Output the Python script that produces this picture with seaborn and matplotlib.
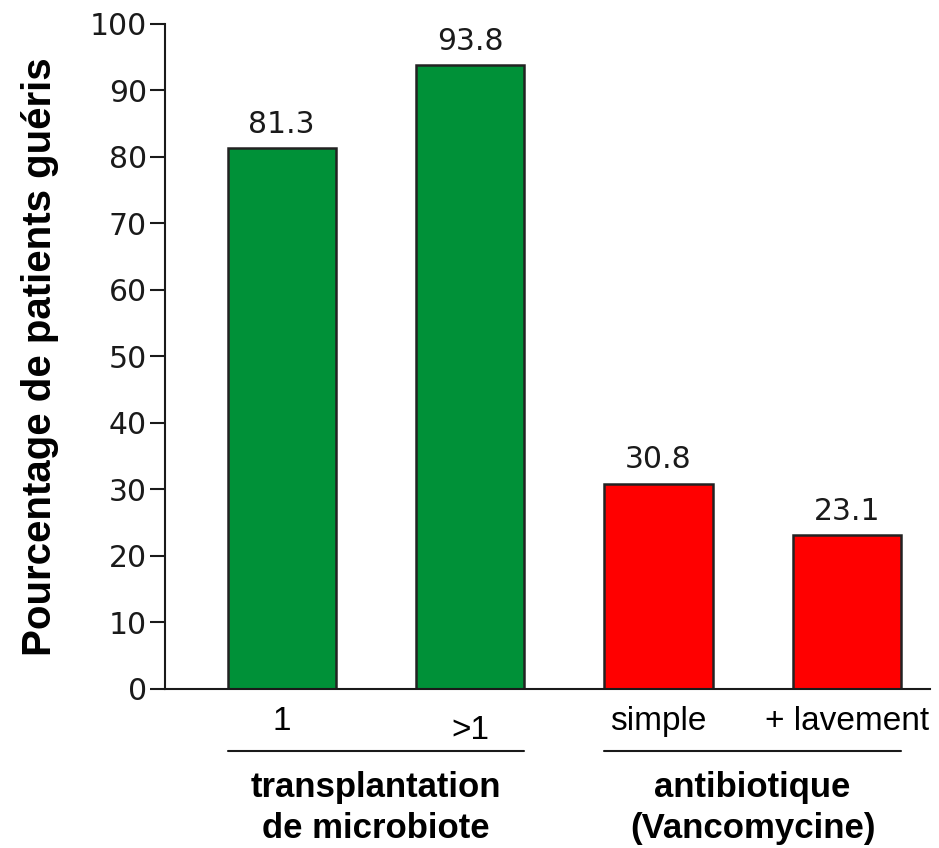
import matplotlib
matplotlib.use('Agg')
import matplotlib.pyplot as plt
import matplotlib.transforms as mtransforms
import seaborn as sns

# Data
treatments = ['1', '>1', 'simple', '+ lavement']
cure_pct = [81.3, 93.8, 30.8, 23.1]
bar_colors = ['#009138', '#009138', '#ff0000', '#ff0000']
groups = ['transplantation\nde microbiote', 'antibiotique\n(Vancomycine)']
group_members = [[0, 1], [2, 3]]

sns.set_style('ticks')
plt.rcParams['font.family'] = ['DejaVu Sans']

fig = plt.figure(figsize=(9.39, 8.48), dpi=100)
ax = fig.add_axes([0.1757, 0.1875, 0.8143, 0.7842])

bar_w = 0.575
sns.barplot(x=treatments, y=cure_pct, hue=treatments, palette=bar_colors,
            legend=False, width=bar_w, saturation=1, edgecolor='#222222',
            linewidth=1.8, ax=ax)

# value labels on top of bars
for i, v in enumerate(cure_pct):
    ax.annotate(f'{v}', xy=(i, v), xytext=(0, 7), textcoords='offset points',
                ha='center', va='bottom', fontsize=21.5, color='#1a1a1a')

ax.set_ylim(0, 100)
ax.set_xlim(-0.62, 3.44)
ax.set_yticks(range(0, 101, 10))
ax.tick_params(axis='y', labelsize=21.5, length=11, width=1.5, direction='out',
               pad=2, colors='#1a1a1a')
ax.tick_params(axis='x', length=0, pad=12, labelcolor='black')
for lab in ax.get_xticklabels():
    lab.set_fontfamily('Liberation Sans')
    lab.set_fontsize(24)
# the ">1" label sits a little lower in the original
xl = ax.get_xticklabels()[1]
xl.set_transform(xl.get_transform() +
                 mtransforms.ScaledTranslation(0, -7 / 72, fig.dpi_scale_trans))

sns.despine(ax=ax, top=True, right=True)
ax.spines['left'].set_linewidth(1.5)
ax.spines['bottom'].set_linewidth(1.5)
ax.spines['left'].set_color('#1a1a1a')
ax.spines['bottom'].set_color('#1a1a1a')

ax.set_xlabel('')
ax.set_ylabel('Pourcentage de patients guéris', fontfamily='Liberation Sans',
              fontweight='bold', fontsize=29, labelpad=22, color='black')

# group brackets and labels below the axis
trans = mtransforms.blended_transform_factory(ax.transData, ax.transAxes)
for name, members in zip(groups, group_members):
    x0 = members[0] - bar_w / 2
    x1 = members[-1] + bar_w / 2
    ax.plot([x0, x1], [-0.093, -0.093], color='#1a1a1a', lw=1.5,
            transform=trans, clip_on=False)
    ax.text((members[0] + members[-1]) / 2, -0.123, name, transform=trans,
            ha='center', va='top', fontfamily='Liberation Sans',
            fontweight='bold', fontsize=25, linespacing=1.3, color='black')

fig.savefig('out.png', dpi=100)
